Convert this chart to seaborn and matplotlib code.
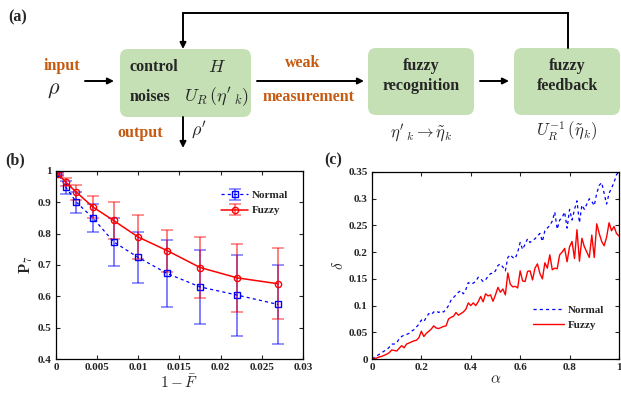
import matplotlib
matplotlib.use("Agg")
import matplotlib.pyplot as plt
from matplotlib.patches import FancyBboxPatch
from matplotlib.ticker import FuncFormatter
from matplotlib.container import ErrorbarContainer
import numpy as np
import pandas as pd
import seaborn as sns

# ---- panel (b) data ----
infid = [0, 0.0003, 0.0012, 0.0025, 0.0045, 0.007, 0.01, 0.0135, 0.0175, 0.022, 0.027]
p7_normal = [1.0, 0.993, 0.948, 0.900, 0.850, 0.774, 0.724, 0.673, 0.630, 0.604, 0.574]
err_normal = [0.0, 0.005, 0.020, 0.033, 0.046, 0.077, 0.082, 0.107, 0.119, 0.129, 0.127]
p7_fuzzy = [1.0, 0.990, 0.964, 0.932, 0.885, 0.842, 0.789, 0.746, 0.692, 0.659, 0.640]
err_fuzzy = [0.0, 0.005, 0.013, 0.024, 0.035, 0.058, 0.069, 0.067, 0.098, 0.108, 0.113]

# ---- panel (c) data ----
alpha = [i / 100 for i in range(101)]
delta_normal = [
    0.000, 0.003, 0.006, 0.009, 0.012, 0.015, 0.018, 0.022, 0.028, 0.028,
    0.030, 0.038, 0.042, 0.045, 0.046, 0.048, 0.052, 0.055, 0.060, 0.065,
    0.073, 0.070, 0.078, 0.085, 0.083, 0.088, 0.090, 0.087, 0.090, 0.088,
    0.093, 0.100, 0.110, 0.115, 0.120, 0.125, 0.128, 0.122, 0.130, 0.143,
    0.140, 0.142, 0.145, 0.153, 0.150, 0.145, 0.148, 0.155, 0.160, 0.160,
    0.165, 0.175, 0.178, 0.172, 0.165, 0.190, 0.195, 0.190, 0.188, 0.200,
    0.218, 0.205, 0.215, 0.225, 0.218, 0.222, 0.225, 0.230, 0.235, 0.220,
    0.240, 0.245, 0.250, 0.258, 0.275, 0.243, 0.260, 0.265, 0.275, 0.245,
    0.280, 0.260, 0.280, 0.296, 0.255, 0.288, 0.280, 0.290, 0.300, 0.295,
    0.287, 0.310, 0.325, 0.330, 0.310, 0.290, 0.310, 0.320, 0.330, 0.345,
    0.350,
]
delta_fuzzy = [
    0.000, 0.001, 0.002, 0.004, 0.005, 0.007, 0.009, 0.012, 0.017, 0.016,
    0.015, 0.020, 0.025, 0.021, 0.028, 0.030, 0.032, 0.034, 0.035, 0.040,
    0.052, 0.042, 0.048, 0.052, 0.056, 0.062, 0.058, 0.057, 0.059, 0.061,
    0.062, 0.075, 0.078, 0.080, 0.087, 0.082, 0.085, 0.088, 0.093, 0.105,
    0.100, 0.105, 0.100, 0.107, 0.117, 0.107, 0.122, 0.118, 0.120, 0.108,
    0.120, 0.134, 0.125, 0.131, 0.120, 0.161, 0.140, 0.135, 0.136, 0.133,
    0.165, 0.146, 0.145, 0.164, 0.165, 0.148, 0.170, 0.178, 0.160, 0.150,
    0.180, 0.170, 0.195, 0.167, 0.170, 0.169, 0.195, 0.200, 0.207, 0.182,
    0.210, 0.220, 0.188, 0.242, 0.183, 0.226, 0.210, 0.200, 0.190, 0.232,
    0.190, 0.253, 0.235, 0.220, 0.212, 0.228, 0.255, 0.240, 0.248, 0.235,
    0.230,
]

ORANGE = "#C55A11"
GREEN = "#C5E0B4"


def fmt_g(v, pos):
    return "%g" % round(v, 4)


def style_axes(ax):
    ax.tick_params(direction="in", top=True, right=True, length=3, width=0.8,
                   labelsize=8, pad=3)
    for lab in ax.get_xticklabels() + ax.get_yticklabels():
        lab.set_fontweight("bold")
    for s in ax.spines.values():
        s.set_color("black")
        s.set_linewidth(0.9)
    ax.xaxis.set_major_formatter(FuncFormatter(fmt_g))
    ax.yaxis.set_major_formatter(FuncFormatter(fmt_g))


def main():
    sns.set_theme(style="ticks")
    plt.rcParams["font.family"] = ["Liberation Serif", "DejaVu Serif"]
    plt.rcParams["mathtext.fontset"] = "cm"

    fig = plt.figure(figsize=(6.21, 3.97), dpi=100)

    # ---------- panel (a): diagram ----------
    axd = fig.add_axes([0, 0, 1, 1])
    axd.set_xlim(0, 621)
    axd.set_ylim(397, 0)
    axd.axis("off")

    def box(x0, y0, x1, y1):
        axd.add_patch(FancyBboxPatch((x0 + 8, y0 + 8), x1 - x0 - 16, y1 - y0 - 16,
                                     boxstyle="round,pad=8", fc=GREEN, ec="none"))

    def arrow(x0, y0, x1, y1):
        axd.annotate("", xy=(x1, y1), xytext=(x0, y0),
                     arrowprops=dict(arrowstyle="-|>", color="black", lw=1.4,
                                     mutation_scale=9, shrinkA=0, shrinkB=0))

    tb = dict(fontsize=11.5, fontweight="bold", va="center")
    axd.text(8, 17, "(a)", fontsize=11.5, fontweight="bold", va="center")
    axd.text(62, 66, "input", color=ORANGE, ha="center", **tb)
    axd.text(54, 90, r"$\rho$", fontsize=16, ha="center", va="center")
    arrow(85, 81, 114, 81)

    box(120, 49, 251, 117)
    axd.text(130, 67, "control", ha="left", **tb)
    axd.text(217, 67, r"$H$", fontsize=13, ha="center", va="center")
    axd.text(130, 97, "noises", ha="left", **tb)
    axd.text(217, 97, r"$U_R\,(\eta'_{\,k})$", fontsize=13, ha="center", va="center")

    arrow(257, 81, 364, 81)
    axd.text(303, 63, "weak", color=ORANGE, ha="center", **tb)
    axd.text(309, 97, "measurement", color=ORANGE, ha="center", **tb)

    box(368, 48, 474, 115)
    axd.text(421, 66, "fuzzy", ha="center", **tb)
    axd.text(421, 86, "recognition", ha="center", **tb)
    arrow(480, 81, 509, 81)
    box(514, 48, 620, 115)
    axd.text(567, 66, "fuzzy", ha="center", **tb)
    axd.text(567, 86, "feedback", ha="center", **tb)

    axd.text(421, 133, r"$\eta'_{\,k} \rightarrow \tilde{\eta}_k$", fontsize=12,
             ha="center", va="center")
    axd.text(567, 131, r"$U_R^{-1}\,(\tilde{\eta}_k)$", fontsize=12,
             ha="center", va="center")

    axd.plot([568, 568, 183], [48, 13, 13], color="black", lw=1.4,
             solid_joinstyle="miter")
    arrow(183, 13, 183, 49)
    arrow(183, 117, 183, 148)
    axd.text(140, 133, "output", color=ORANGE, ha="center", **tb)
    axd.text(199, 130, r"$\rho'$", fontsize=13, ha="center", va="center")

    # ---------- panel (b) ----------
    axb = fig.add_axes([0.090, 0.0957, 0.398, 0.4736])
    dfb = pd.DataFrame({"x": infid, "normal": p7_normal, "fuzzy": p7_fuzzy})
    eb_n = axb.errorbar(infid, p7_normal, yerr=err_normal, fmt="none",
                        ecolor=(0, 0, 1, 0.5), elinewidth=1.4, capsize=4,
                        capthick=1.2)
    eb_f = axb.errorbar(infid, p7_fuzzy, yerr=err_fuzzy, fmt="none",
                        ecolor=(1, 0, 0, 0.5), elinewidth=1.4, capsize=4,
                        capthick=1.2)
    sns.lineplot(data=dfb, x="x", y="normal", ax=axb, color="blue", lw=0.9,
                 marker="s", markersize=4, markerfacecolor="none",
                 markeredgecolor="blue", markeredgewidth=1.0)
    axb.lines[-1].set_dashes([2.5, 2.5])
    sns.lineplot(data=dfb, x="x", y="fuzzy", ax=axb, color="red", lw=1.1,
                 marker="o", markersize=4.5, markerfacecolor="none",
                 markeredgecolor="red", markeredgewidth=1.0)
    line_n = axb.lines[-2]
    line_f = axb.lines[-1]
    axb.set_xlim(0, 0.03)
    axb.set_ylim(0.4, 1.0)
    axb.set_xticks([0, 0.005, 0.01, 0.015, 0.02, 0.025, 0.03])
    axb.set_yticks(np.arange(0.4, 1.01, 0.1))
    axb.set_xlabel(r"$1-\bar{F}$", fontsize=11, labelpad=1)
    axb.set_ylabel(r"$\mathbf{P}_{7}$", fontsize=11, labelpad=2)
    style_axes(axb)
    h_n = ErrorbarContainer((line_n, eb_n.lines[1], eb_n.lines[2]),
                            has_xerr=False, has_yerr=True)
    h_f = ErrorbarContainer((line_f, eb_f.lines[1], eb_f.lines[2]),
                            has_xerr=False, has_yerr=True)
    axb.legend([h_n, h_f], ["Normal", "Fuzzy"],
               loc="upper right", bbox_to_anchor=(0.98, 0.95), frameon=False,
               prop={"weight": "bold", "size": 8}, handlelength=2.5,
               handletextpad=0.3, labelspacing=0.5)
    fig.text(0.008, 0.595, "(b)", fontsize=11.5, fontweight="bold", va="center")

    # ---------- panel (c) ----------
    axc = fig.add_axes([0.599, 0.0957, 0.3977, 0.4711])
    dfc = pd.DataFrame({"alpha": alpha, "Normal": delta_normal, "Fuzzy": delta_fuzzy})
    sns.lineplot(data=dfc, x="alpha", y="Normal", ax=axc, color="blue", lw=0.9,
                 label="Normal")
    axc.lines[-1].set_dashes([2.5, 2.5])
    sns.lineplot(data=dfc, x="alpha", y="Fuzzy", ax=axc, color="red", lw=1.0,
                 label="Fuzzy")
    axc.set_xlim(0, 1)
    axc.set_ylim(0, 0.35)
    axc.set_xticks(np.arange(0, 1.01, 0.2))
    axc.set_yticks(np.arange(0, 0.351, 0.05))
    axc.set_xlabel(r"$\alpha$", fontsize=11, labelpad=1)
    axc.set_ylabel(r"$\delta$", fontsize=11, labelpad=2)
    style_axes(axc)
    axc.legend(loc="lower right", bbox_to_anchor=(0.98, 0.1), frameon=False,
               prop={"weight": "bold", "size": 8}, handlelength=2.8,
               handletextpad=0.3, labelspacing=0.5)
    fig.text(0.522, 0.595, "(c)", fontsize=11.5, fontweight="bold", va="center")

    fig.savefig("out.png", dpi=100)
    plt.close(fig)


if __name__ == "__main__":
    main()
